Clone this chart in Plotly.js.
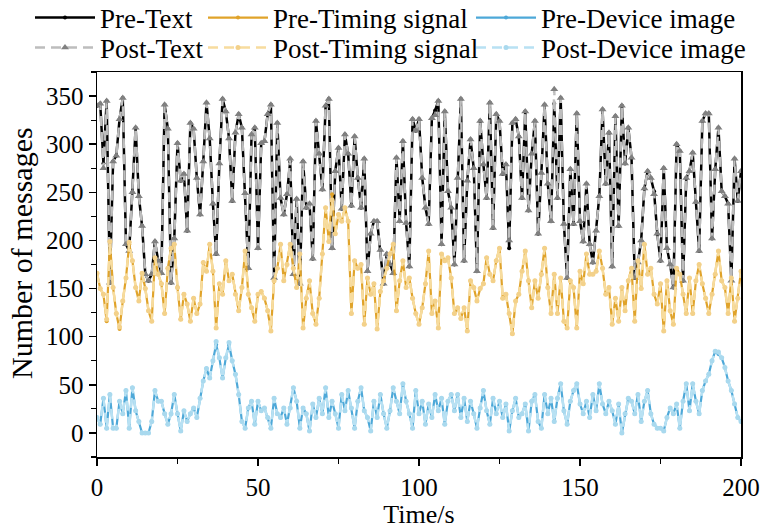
<!DOCTYPE html>
<html>
<head>
<meta charset="utf-8">
<script src="https://cdn.plot.ly/plotly-3.0.1.min.js"></script>
<style>html,body{margin:0;padding:0;background:#fff;}#chart{width:760px;height:530px;}</style>
</head>
<body>
<div id="chart"></div>
<script>
// ---- data ----
const seriesNames = ["Pre-Text", "Post-Text", "Pre-Timing signal", "Post-Timing signal", "Pre-Device image", "Post-Device image"];
const yTitle = "Number of messages";
const xTitle = "Time/s";

const textPre = [340,342,280,345,156,282,288,326,348,196,
189,250,317,246,215,165,158,165,199,179,
166,341,316,156,202,301,262,269,210,322,
316,265,227,282,343,306,238,186,280,347,
334,306,241,312,331,317,249,171,310,317,
192,301,303,331,341,161,322,244,227,248,
282,165,243,155,282,234,238,181,324,290,
253,340,347,192,272,296,233,310,290,236,
308,265,234,285,168,207,220,220,190,155,
186,175,166,286,220,303,218,173,326,314,
326,265,234,217,327,335,345,196,334,251,
234,175,265,347,179,262,305,275,168,324,
279,244,343,213,331,324,269,279,192,322,
326,308,244,334,231,290,324,207,270,341,
259,220,342,244,348,217,161,274,217,332,
220,199,259,196,177,210,246,336,259,312,
173,329,215,340,280,317,286,161,177,200,
254,272,265,251,207,179,275,192,175,151,
300,293,158,265,272,291,240,189,324,332,
332,202,274,317,251,246,238,158,285,241,
272];

const textPost = [340,342,275,345,156,282,288,326,348,196,
189,250,317,246,215,165,158,165,199,179,
166,341,316,156,202,301,262,269,210,322,
316,265,227,282,343,306,238,186,280,347,
334,306,241,312,331,317,249,171,310,317,
192,301,303,331,341,161,322,244,227,248,
285,165,243,155,282,234,238,181,324,290,
253,340,347,192,272,296,233,310,290,236,
308,265,234,285,168,207,220,220,190,155,
186,175,166,286,220,303,218,173,326,314,
326,265,234,217,327,330,345,196,334,251,
234,175,265,347,179,262,305,275,168,324,
279,244,343,213,331,324,269,279,200,322,
326,308,244,334,231,290,324,207,270,341,
259,220,357,244,348,217,161,274,217,332,
220,199,259,196,177,210,246,336,259,312,
173,329,215,340,280,317,286,161,177,200,
254,272,265,248,207,179,275,192,175,151,
300,293,158,265,272,291,240,189,324,332,
332,202,274,317,251,246,238,158,285,241,
272];

const timingPre = [166,150,144,116,199,151,124,108,137,161,
196,179,151,137,166,150,127,116,182,165,
155,124,171,192,196,151,118,144,134,116,
140,124,134,177,168,196,168,109,155,144,
179,158,165,144,127,151,189,144,130,116,
144,147,140,127,106,158,171,196,158,175,
196,171,151,186,109,140,158,124,113,140,
186,234,199,248,207,227,220,234,220,124,
179,171,175,113,161,144,155,108,147,158,
171,186,196,127,158,179,151,161,140,124,
113,130,155,189,124,137,109,186,179,182,
161,124,130,119,130,106,158,151,137,150,
155,182,165,158,179,192,140,144,124,103,
137,144,168,189,158,130,158,140,165,192,
151,124,165,124,161,116,109,158,151,109,
168,155,186,165,165,168,189,171,144,151,
113,140,116,151,127,158,171,116,179,150,
196,165,171,144,134,155,106,158,127,113,
171,165,144,124,161,124,158,175,155,140,
124,144,165,189,158,151,124,161,116,140,
168];

const timingPost = [166,150,144,118,199,151,124,110,137,161,
198,179,151,137,166,150,127,116,182,165,
155,124,171,192,196,151,118,144,134,116,
140,124,134,177,168,196,168,109,155,144,
179,158,165,144,127,151,189,144,130,116,
144,147,140,127,106,158,171,196,158,175,
196,171,151,186,109,140,158,124,113,140,
186,234,199,242,207,227,220,234,220,124,
179,171,175,113,161,144,155,108,147,158,
171,186,196,127,158,179,151,161,140,124,
113,130,155,189,124,137,109,186,179,182,
161,124,130,119,130,106,158,151,137,150,
155,182,165,158,179,192,140,144,124,103,
137,144,168,189,158,130,158,140,165,192,
151,124,165,124,161,116,109,158,151,109,
168,155,186,165,165,168,189,171,144,151,
113,140,116,151,127,158,171,116,179,150,
196,165,171,144,134,155,106,158,127,113,
171,165,144,124,161,124,158,175,155,140,
124,144,165,189,158,151,124,161,116,140,
168];

const devicePre = [16,9,36,5,40,5,5,33,20,44,
5,47,23,12,0,0,0,12,44,33,
33,20,9,20,40,20,2,23,12,20,
26,16,36,54,67,57,75,92,78,57,
78,92,75,61,40,12,5,26,33,9,
33,23,26,16,5,36,20,16,26,9,
26,47,33,5,26,20,2,30,16,36,
20,47,16,33,20,5,40,23,44,26,
5,33,47,23,16,2,33,16,40,20,
5,23,47,33,20,51,33,20,5,44,
20,33,9,30,16,40,23,36,9,33,
40,23,40,16,36,12,33,20,5,26,
44,23,9,36,20,33,16,30,2,23,
36,16,20,30,2,33,40,12,5,40,
20,36,12,36,51,23,9,33,44,51,
30,20,33,16,40,23,51,30,20,33,
23,9,30,0,20,36,33,20,40,12,
33,44,20,9,5,5,2,16,26,20,
30,5,33,51,23,51,33,20,44,54,
61,75,85,82,78,68,54,44,30,16,
12];

const devicePost = [16,9,36,5,40,5,5,33,20,44,
5,47,23,12,0,0,0,12,44,33,
33,20,9,20,40,20,2,23,12,20,
26,16,36,54,67,57,75,95,78,57,
78,94,75,61,40,12,5,26,33,9,
33,23,26,16,5,36,20,16,26,9,
26,47,33,5,26,20,2,30,16,36,
20,47,16,33,20,5,40,23,44,26,
5,33,47,23,16,2,33,16,40,20,
5,23,47,33,20,51,33,20,5,44,
20,33,9,30,16,40,23,36,9,33,
40,23,40,16,36,12,33,20,5,26,
44,23,9,36,20,33,16,30,2,23,
36,16,20,30,2,33,40,12,5,40,
20,36,12,36,51,23,9,33,44,51,
30,20,33,16,40,23,51,30,20,33,
23,9,30,0,20,36,33,20,40,12,
33,44,20,9,5,5,2,16,26,20,
30,5,33,51,23,51,33,20,44,54,
61,75,85,84,78,68,54,44,30,16,
12];

const time = textPre.map((_, i) => i);
const xTickVals = [0, 50, 100, 150, 200];
const yTickVals = [0, 50, 100, 150, 200, 250, 300, 350];

// ---- styling ----
const FONT = "Liberation Serif, Times New Roman, serif";
const DASH = "10px,6px";
const W = 760, H = 530;
const M = {l: 97, r: 19, t: 72, b: 73};

function pre(name, y, color, width, legend) {
  return {x: time, y: y, name: name, type: "scatter", mode: "lines+markers", legend: legend,
    line: {color: color, width: width}, marker: {size: 4, color: color}};
}
function post(name, y, lineColor, markerColor, symbol, size, legend) {
  return {x: time, y: y, name: name, type: "scatter", mode: "lines+markers", legend: legend,
    line: {color: lineColor, width: 2.5, dash: DASH},
    marker: {size: size, color: markerColor, symbol: symbol}};
}

const traces = [
  pre(seriesNames[0], textPre, "#000000", 2.5, "legend"),
  post(seriesNames[1], textPost, "#BDBDBD", "#808080", "triangle-up", 7, "legend4"),
  pre(seriesNames[2], timingPre, "#E0A32A", 2.2, "legend2"),
  post(seriesNames[3], timingPost, "#F7DC9E", "#F3D18A", "circle", 5, "legend5"),
  pre(seriesNames[4], devicePre, "#4DA8D8", 2.2, "legend3"),
  post(seriesNames[5], devicePost, "#B8E1F3", "#A9D9EE", "circle", 5, "legend6")
];

const legendBase = {
  xref: "container", yref: "container", xanchor: "left", yanchor: "middle",
  orientation: "v", itemwidth: 60, tracegroupgap: 0,
  bgcolor: "rgba(0,0,0,0)", borderwidth: 0,
  font: {family: FONT, size: 27, color: "#000"}
};
function leg(xpx, ypx) {
  return Object.assign({}, legendBase, {x: xpx / W, y: 1 - ypx / H});
}

const axisBase = {
  showline: true, linecolor: "#000", linewidth: 1.5, mirror: true,
  ticks: "outside", ticklen: 7, tickwidth: 1.5, tickcolor: "#000",
  showgrid: false, zeroline: false, automargin: false, ticklabeloverflow: "allow",
  tickfont: {family: FONT, size: 25, color: "#000"}
};

const plotW = W - M.l - M.r;

const layout = {
  width: W, height: H,
  paper_bgcolor: "#fff", plot_bgcolor: "#fff",
  margin: Object.assign({autoexpand: false}, M),
  font: {family: FONT, color: "#000"},
  xaxis: Object.assign({}, axisBase, {
    range: [0, 200], tickmode: "array", tickvals: xTickVals,
    minor: {dtick: 25, tick0: 0, ticks: "outside", ticklen: 5, tickwidth: 1.2, tickcolor: "#000"},
    title: {text: xTitle, font: {family: FONT, size: 26, color: "#000"}, standoff: 0}
  }),
  yaxis: Object.assign({}, axisBase, {
    range: [-25, 375], tickmode: "array", tickvals: yTickVals,
    minor: {dtick: 25, tick0: 0, ticks: "outside", ticklen: 5, tickwidth: 1.2, tickcolor: "#000"}
  }),
  annotations: [{
    text: yTitle, textangle: -90, showarrow: false,
    xref: "paper", yref: "paper", x: (22 - M.l) / plotW, y: 0.53,
    xanchor: "center", yanchor: "middle",
    font: {family: FONT, size: 30, color: "#000"}
  }],
  legend: leg(30, 18),
  legend2: leg(203, 18),
  legend3: leg(471, 18),
  legend4: leg(30, 48),
  legend5: leg(203, 48),
  legend6: leg(471, 48),
  showlegend: true
};

Plotly.newPlot("chart", traces, layout, {displayModeBar: false, staticPlot: true});
</script>
</body>
</html>
